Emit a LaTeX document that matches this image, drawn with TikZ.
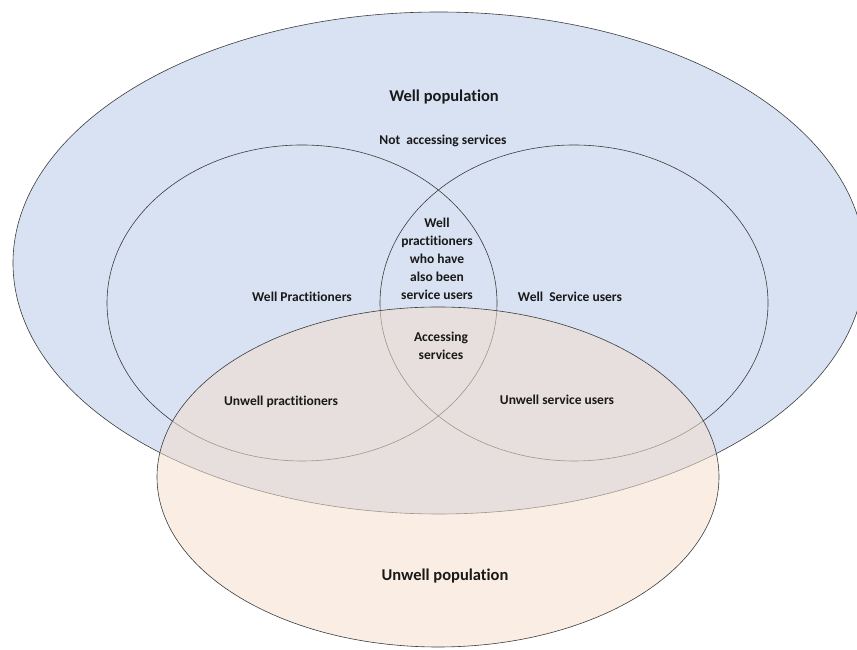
\documentclass[tikz,border=0pt]{standalone}
\usepackage{fontspec}
\setmainfont[Ligatures=NoCommon]{Carlito}
\usepackage{tikz}

\definecolor{wellblue}{RGB}{217,226,242}
\definecolor{unwellpeach}{RGB}{244,222,206}
\definecolor{edge}{RGB}{60,60,60}

\tikzset{
  label/.style={font=\bfseries\fontsize{13.5}{18}\selectfont, text=black!90, align=center, inner sep=0pt},
  biglabel/.style={font=\bfseries\fontsize{16.5}{19}\selectfont, text=black!90, inner sep=0pt}
}

\begin{document}
\begin{tikzpicture}[x=1pt,y=1pt]
\useasboundingbox (0,0) rectangle (857,650);
\clip (0,0) rectangle (857,650);
\draw[edge, line width=0.6pt, fill=wellblue] (439,387) ellipse [x radius=426pt, y radius=251pt];
\draw[edge, line width=0.6pt] (302,347) ellipse [x radius=195pt, y radius=158pt];
\draw[edge, line width=0.6pt] (574,347) ellipse [x radius=194pt, y radius=158pt];
\draw[edge, line width=0.6pt, fill=unwellpeach, fill opacity=0.55] (438,173) ellipse [x radius=281pt, y radius=170pt];
\node[biglabel] (wellpop) at (444,553) {Well population};
\node[label] (notacc) at (443,509) {Not~ accessing services};
\node[label] (lens) at (437,391) {Well\\practitioners\\who have\\also been\\service users};
\node[label] (wellprac) at (302,353) {Well Practitioners};
\node[label] (wellserv) at (570,353) {Well~ Service users};
\node[label] (acc) at (441,304) {Accessing\\services};
\node[label] (unwellprac) at (281,248) {Unwell practitioners};
\node[label] (unwellserv) at (557,250) {Unwell service users};
\node[biglabel] (unwellpop) at (445,74) {Unwell population};
\end{tikzpicture}
\end{document}
